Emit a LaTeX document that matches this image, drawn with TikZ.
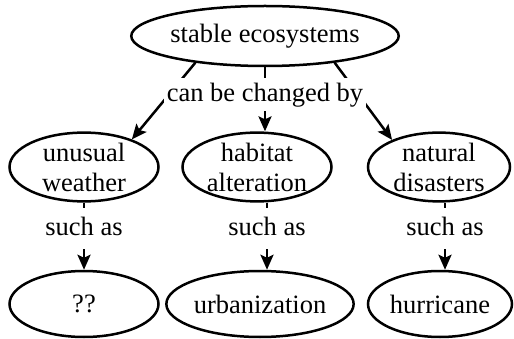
\documentclass[tikz,border=0pt]{standalone}
\usepackage{fontspec}
\setmainfont{Liberation Serif}
\usetikzlibrary{shapes.geometric,arrows.meta,backgrounds}
\begin{document}
\begin{tikzpicture}[x=1pt,y=-1pt,
  ell/.style={draw,line width=2.5pt,ellipse,inner sep=0pt,align=center,font=\fontsize{26.5}{30}\selectfont},
  lbl/.style={fill=white,anchor=base,inner xsep=3pt,inner ysep=4pt,text height=20pt,text depth=5pt,font=\fontsize{26.5}{30}\selectfont},
  arr/.style={line width=2.5pt,-{Stealth[length=15pt,width=13pt,inset=3pt]}},
  ln/.style={line width=2.5pt}]
\useasboundingbox (0,0) rectangle (514,339);
% nodes
\node[ell,minimum width=214pt,minimum height=60pt] (top) at (265,36) {stable ecosystems};
\node[ell,minimum width=149pt,minimum height=68pt] (uw) at (84,167) {unusual\\weather};
\node[ell,minimum width=149pt,minimum height=68pt] (ha) at (257,167) {habitat\\alteration};
\node[ell,minimum width=142pt,minimum height=68pt] (nd) at (439,167) {natural\\disasters};
\node[ell,minimum width=149pt,minimum height=66pt] (q) at (84,304) {??};
\node[ell,minimum width=169pt,minimum height=66pt] (urb) at (260,304) {urbanization};
\node[ell,minimum width=144pt,minimum height=66pt] (hur) at (440,304) {hurricane};
% labels
\node[lbl] (cb) at (265,102) {can be changed by};
\node[lbl,inner ysep=8pt] (s1) at (84,236) {such as};
\node[lbl,inner ysep=8pt] (s2) at (267,236) {such as};
\node[lbl,inner ysep=8pt] (s3) at (445,236) {such as};
% connectors
\begin{pgfonlayer}{background}
\draw[arr] (top.201) -- (uw.30);
\draw[arr] (top.south) -- (top.south |- ha.north);
\draw[arr] (top.339) -- (nd.150);
\draw[arr] (uw.south -| s1) -- (q.north -| s1);
\draw[arr] (ha.south -| s2) -- (urb.north -| s2);
\draw[arr] (nd.south -| s3) -- (hur.north -| s3);
\end{pgfonlayer}
\end{tikzpicture}
\end{document}
